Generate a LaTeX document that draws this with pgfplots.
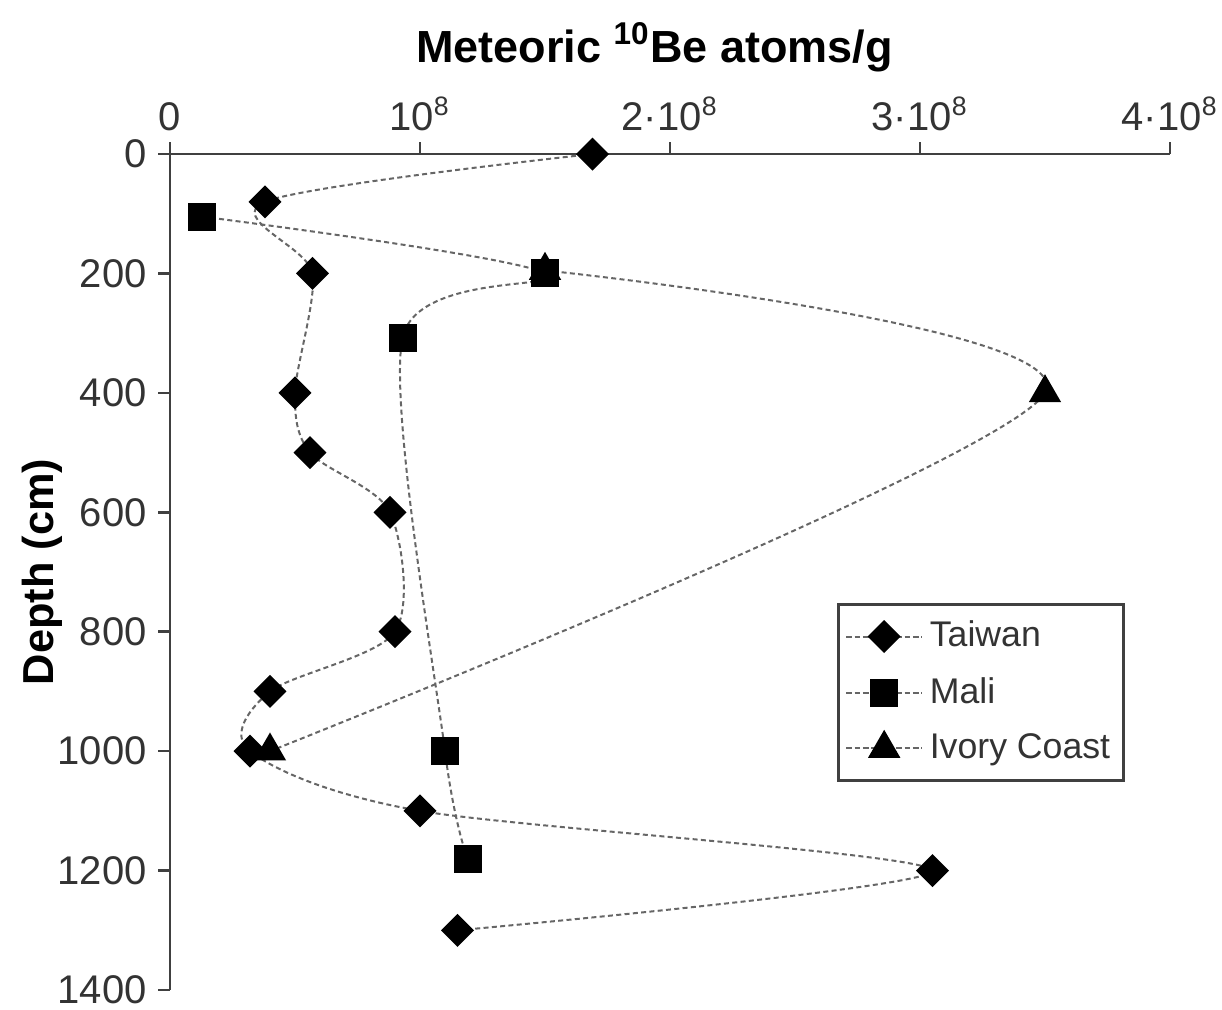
\documentclass[border=0pt]{standalone}
\usepackage{pgfplots}
\pgfplotsset{compat=1.18}
\usepackage{fontspec}
\setmainfont{Liberation Sans}
\begin{document}
\begin{tikzpicture}
\useasboundingbox (-51pt,-5.7pt) rectangle (315.6pt,297pt);
\begin{axis}[
  scale only axis,
  width=300pt, height=250.8pt,
  xmin=0, xmax=4e8, ymin=0, ymax=1400,
  y dir=reverse,
  axis x line*=top, axis y line*=left,
  axis line style={-, black!75, line width=0.75pt},
  tick style={black!75, line width=0.75pt},
  tick align=outside,
  major tick length=3.5pt,
  scaled x ticks=false,
  xtick={0,1e8,2e8,3e8,4e8},
  xticklabels={0,10\textsuperscript{8},2·10\textsuperscript{8},3·10\textsuperscript{8},4·10\textsuperscript{8}},
  ytick={0,200,400,600,800,1000,1200,1400},
  /pgf/number format/assume math mode=true,
  /pgf/number format/1000 sep={},
  ticklabel style={font=\fontsize{12}{14}\selectfont, text=black!80},
  xlabel={\textbf{Meteoric \textsuperscript{10}Be atoms/g}},
  ylabel={\textbf{Depth (cm)}},
  xlabel style={font=\fontsize{13.5}{16}\selectfont, at={(axis description cs:0.4845,1)}, anchor=base, yshift=27.6pt},
  ylabel style={font=\fontsize{13}{16}\selectfont, at={(axis description cs:0,0.5)}, anchor=center, yshift=38.4pt},
  legend style={at={(axis description cs:0.955,0.463)}, anchor=north east,
    draw=black!75, line width=0.9pt, font=\fontsize{10.7}{13}\selectfont,
    row sep=3.6pt, inner xsep=2pt, inner ysep=3pt, text=black!80},
  legend cell align=left,
  legend image code/.code={\draw[mark repeat=2,mark phase=2,#1] plot coordinates {(0cm,0cm) (0.4cm,0cm) (0.8cm,0cm)};},
]
\addplot[smooth, black!60, line width=0.6pt, dash pattern=on 1.5pt off 1pt,
  mark=square*, mark size=3.2pt, mark options={solid, rotate=45, fill=black, draw=black}]
coordinates {(1.69e8,0) (0.38e8,80) (0.57e8,200) (0.50e8,400) (0.56e8,500) (0.88e8,600) (0.90e8,800) (0.40e8,900) (0.32e8,1000) (1.0e8,1100) (3.05e8,1200) (1.15e8,1300)};
\addlegendentry{Taiwan}
\addplot[smooth, black!60, line width=0.6pt, dash pattern=on 1.5pt off 1pt,
  mark=square*, mark size=3.9pt, mark options={solid, fill=black, draw=black}]
coordinates {(0.13e8,105) (1.5e8,200) (0.93e8,308) (1.1e8,1000) (1.19e8,1180)};
\addlegendentry{Mali}
\addplot[smooth, black!60, line width=0.6pt, dash pattern=on 1.5pt off 1pt,
  mark=triangle*, mark size=5pt, mark options={solid, fill=black, draw=black}]
coordinates {(1.5e8,195) (3.5e8,400) (0.4e8,1000)};
\addlegendentry{Ivory Coast}
\end{axis}
\end{tikzpicture}
\end{document}
